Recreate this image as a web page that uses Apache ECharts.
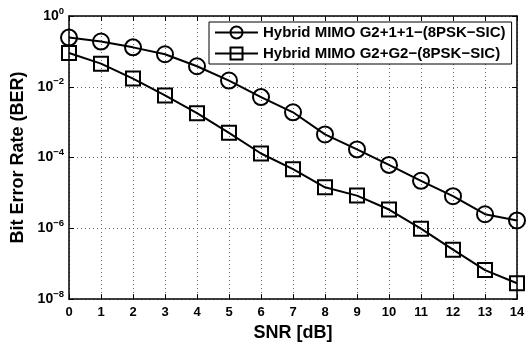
<!DOCTYPE html>
<html>
<head>
<meta charset="utf-8">
<script src="https://cdn.jsdelivr.net/npm/echarts@6/dist/echarts.min.js"></script>
<style>html,body{margin:0;padding:0;background:#fff;}#c{width:529px;height:347px;}</style>
</head>
<body>
<div id="c"></div>
<script>
const snr = [0,1,2,3,4,5,6,7,8,9,10,11,12,13,14];
const berG211 = [0.245, 0.19, 0.13, 0.083, 0.038, 0.015, 0.0051, 0.0019, 4.5e-4, 1.7e-4, 6.2e-5, 2.2e-5, 8.1e-6, 2.5e-6, 1.67e-6];
const berG2G2 = [0.09, 0.045, 0.017, 0.0057, 0.0018, 5.0e-4, 1.3e-4, 4.7e-5, 1.44e-5, 8.4e-6, 3.4e-6, 9.8e-7, 2.5e-7, 6.6e-8, 2.8e-8];
const seriesNames = ['Hybrid MIMO G2+1+1\u2212(8PSK\u2212SIC)', 'Hybrid MIMO G2+G2\u2212(8PSK\u2212SIC)'];
const xTitle = 'SNR [dB]';
const yTitle = 'Bit Error Rate (BER)';

const font = 'Liberation Sans, Arial, Helvetica, sans-serif';
const chart = echarts.init(document.getElementById('c'), null, {renderer: 'canvas'});

function pairs(ys){ return snr.map((x,i)=>[x, ys[i]]); }

const tickStyle = {show:true, inside:true, length:5, lineStyle:{color:'#000', width:1}};
const axLine = {show:true, onZero:false, lineStyle:{color:'#000', width:1.5}};
const gridLine = {show:true, lineStyle:{color:'#666', width:1, type:[1,3]}};

chart.setOption({
  animation: false,
  backgroundColor: '#fff',
  grid: {left: 69, right: 12, top: 16, bottom: 46, containLabel: false},
  xAxis: [{
    type: 'value', min: 0, max: 14, interval: 1,
    axisLine: axLine, axisTick: tickStyle, splitLine: gridLine,
    axisLabel: {color:'#000', fontWeight:'bold', fontSize:13, fontFamily:font, margin:7},
    name: xTitle, nameLocation: 'middle', nameGap: 20,
    nameTextStyle: {color:'#000', fontWeight:'bold', fontSize:18, fontFamily:font}
  },{
    type: 'value', min: 0, max: 14, interval: 1, position: 'top',
    axisLine: axLine, axisTick: tickStyle, splitLine: {show:false}, axisLabel: {show:false}
  }],
  yAxis: [{
    type: 'log', logBase: 10, min: 1e-8, max: 1, interval: 2,
    axisLine: axLine, axisTick: tickStyle, splitLine: gridLine,
    minorTick: {show:false},
    axisLabel: {
      margin: 5,
      formatter: function(v){
        const e = Math.round(Math.log10(v));
        const s = e < 0 ? '\u2212' + (-e) : String(e);
        return '{b|10}{s|' + s + '}';
      },
      rich: {
        b: {color:'#000', fontWeight:'bold', fontSize:14, fontFamily:font, lineHeight:20, verticalAlign:'middle'},
        s: {color:'#000', fontWeight:'bold', fontSize:9.5, fontFamily:font, lineHeight:10, verticalAlign:'top'}
      }
    },
    name: yTitle, nameLocation: 'middle', nameGap: 37,
    nameTextStyle: {color:'#000', fontWeight:'bold', fontSize:18, fontFamily:font}
  },{
    type: 'log', logBase: 10, min: 1e-8, max: 1, interval: 2, position: 'right',
    axisLine: axLine, axisTick: tickStyle, splitLine: {show:false}, axisLabel: {show:false}
  }],
  legend: {
    orient: 'vertical', left: 209, top: 22,
    padding: [3, 6, 3, 5], itemGap: 6, itemWidth: 43, itemHeight: 15,
    backgroundColor: '#fff', borderColor: '#000', borderWidth: 1,
    textStyle: {color:'#000', fontWeight:'bold', fontSize:15, fontFamily:font},
    data: seriesNames
  },
  series: [{
    name: seriesNames[0], type: 'line', data: pairs(berG211),
    symbol: 'circle', symbolSize: 16, showAllSymbol: true,
    lineStyle: {color:'#000', width:2},
    itemStyle: {color:'rgba(255,255,255,0)', borderColor:'#000', borderWidth:2},
    z: 3
  },{
    name: seriesNames[1], type: 'line', data: pairs(berG2G2),
    symbol: 'rect', symbolSize: 14, showAllSymbol: true,
    lineStyle: {color:'#000', width:2},
    itemStyle: {color:'rgba(255,255,255,0)', borderColor:'#000', borderWidth:2},
    z: 3
  }]
});
</script>
</body>
</html>
